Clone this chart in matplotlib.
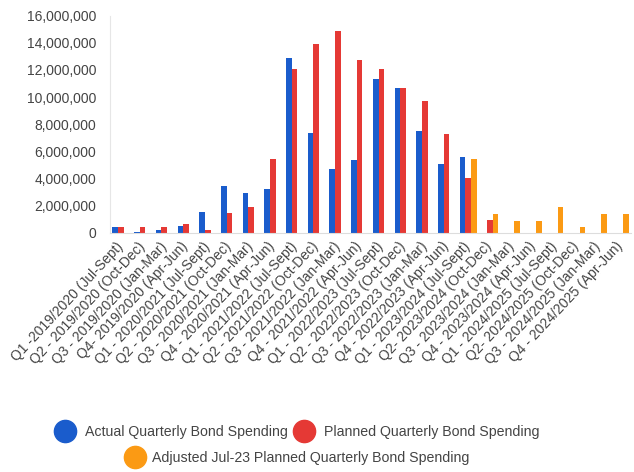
import matplotlib
matplotlib.use("Agg")
import matplotlib.pyplot as plt
import numpy as np
from matplotlib.lines import Line2D
from matplotlib.ticker import FuncFormatter
from matplotlib.transforms import ScaledTranslation

plt.rcParams['font.family'] = ['Liberation Sans', 'DejaVu Sans']

categories = [
    "Q1 -2019/2020 (Jul-Sept)", "Q2 - 2019/2020 (Oct-Dec)", "Q3 - 2019/2020 (Jan-Mar)", "Q4- 2019/2020 (Apr-Jun)",
    "Q1 - 2020/2021 (Jul-Sept)", "Q2 - 2020/2021 (Oct-Dec)", "Q3 - 2020/2021 (Jan-Mar)", "Q4 - 2020/2021 (Apr-Jun)",
    "Q1 - 2021/2022 (Jul-Sept)", "Q2 - 2021/2022 (Oct-Dec)", "Q3 - 2021/2022 (Jan-Mar)", "Q4 - 2021/2022 (Apr-Jun)",
    "Q1 - 2022/2023 (Jul-Sept)", "Q2 - 2022/2023 (Oct-Dec)", "Q3 - 2022/2023 (Jan-Mar)", "Q4 - 2022/2023 (Apr-Jun)",
    "Q1 - 2023/2024 (Jul-Sept)", "Q2- 2023/2024 (Oct-Dec)", "Q3 - 2023/2024 (Jan-Mar)", "Q4 - 2023/2024 (Apr-Jun)",
    "Q1 - 2024/2025 (Jul-Sept)", "Q2- 2024/2025 (Oct-Dec)", "Q3 - 2024/2025 (Jan-Mar)", "Q4 - 2024/2025 (Apr-Jun)",
]

actual = [450000, 50000, 200000, 540000, 1520000, 3480000, 2940000, 3260000,
          12840000, 7330000, 4730000, 5370000, 11350000, 10630000, 7470000, 5050000,
          5590000, np.nan, np.nan, np.nan, np.nan, np.nan, np.nan, np.nan]

planned = [450000, 450000, 450000, 640000, 220000, 1450000, 1930000, 5440000,
           12060000, 13870000, 14850000, 12700000, 12030000, 10630000, 9700000, 7260000,
           4020000, 980000, np.nan, np.nan, np.nan, np.nan, np.nan, np.nan]

adjusted = [np.nan] * 16 + [5420000, 1420000, 880000, 880000, 1890000, 420000, 1420000, 1420000]

series_names = ["Actual Quarterly Bond Spending", "Planned Quarterly Bond Spending",
                "Adjusted Jul-23 Planned Quarterly Bond Spending"]
colors = ["#1a5ccc", "#e53935", "#fb9a14"]

fig = plt.figure(figsize=(6.34, 4.72), dpi=100)
ax = fig.add_axes([110/634, 1 - 233/472, 521/634, (233 - 15.5)/472])

x = np.arange(len(categories))
w = 0.26
for i, (vals, c) in enumerate(zip([actual, planned, adjusted], colors)):
    ax.bar(x + (i - 1) * w, vals, width=w, color=c, label=series_names[i])

ax.set_xlim(-0.5, len(categories) - 0.5)
ax.set_ylim(0, 16000000)
ax.set_yticks(np.arange(0, 16000001, 2000000))
ax.yaxis.set_major_formatter(FuncFormatter(lambda v, p: f"{int(v):,}"))
ax.set_xticks(x)
ax.set_xticklabels(categories, rotation=47, ha='right', va='center', rotation_mode='anchor')
offset = ScaledTranslation(6/100, 0, fig.dpi_scale_trans)
for lab in ax.get_xticklabels():
    lab.set_transform(lab.get_transform() + offset)

for s in ['top', 'right']:
    ax.spines[s].set_visible(False)
ax.spines['left'].set_color('#e6e6e6')
ax.spines['bottom'].set_color('#dddddd')
ax.tick_params(axis='both', length=0, colors='#444444', labelsize=10)
ax.tick_params(axis='y', pad=10)
ax.tick_params(axis='x', pad=8)

handles = [Line2D([], [], linestyle='none', marker='o', markersize=16, color=c) for c in colors]
leg1 = fig.legend(handles[:2], series_names[:2], loc='center', bbox_to_anchor=(298/634, 1 - 432/472),
                  ncol=2, frameon=False, fontsize=10.2, handletextpad=0.8, columnspacing=0.5,
                  handlelength=1.2, labelcolor='#444444')
leg2 = fig.legend(handles[2:], series_names[2:], loc='center', bbox_to_anchor=(298/634, 1 - 458/472),
                  ncol=1, frameon=False, fontsize=10.2, handletextpad=0.6, handlelength=1.2,
                  labelcolor='#444444')

fig.savefig("out.png", dpi=100)
